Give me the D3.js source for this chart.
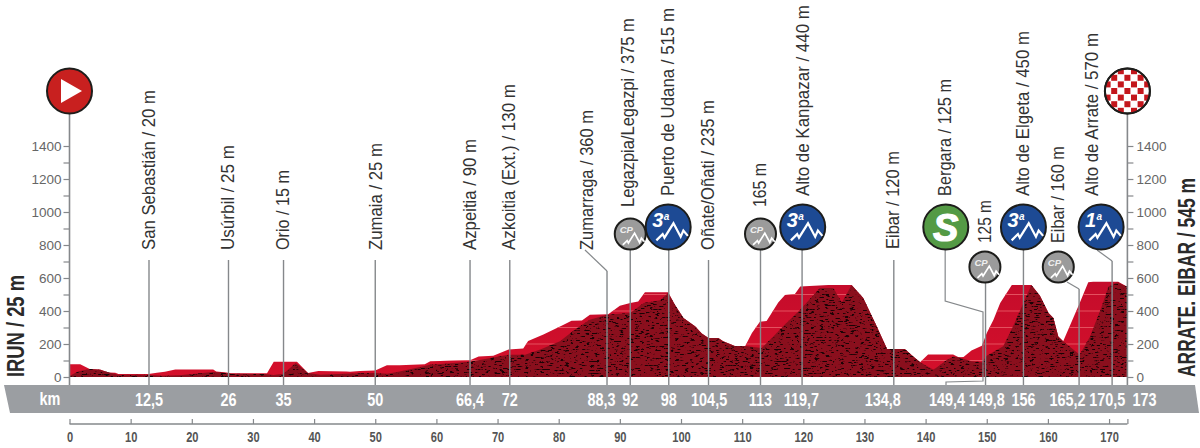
<!DOCTYPE html>
<html>
<head>
<meta charset="utf-8">
<script src="https://cdn.jsdelivr.net/npm/d3@7"></script>
<style>
  html, body { margin: 0; background: #fff; }
  svg { display: block; }
  .place { font-family: "Liberation Sans", sans-serif; font-size: 18.5px; fill: #333; }
  .scale text { font-family: "Liberation Sans", sans-serif; font-size: 13.5px; fill: #666; }
  .kmaxis text { font-family: "Liberation Sans", sans-serif; font-size: 15px; font-weight: bold; fill: #555; }
  .bandlabel { font-family: "Liberation Sans", sans-serif; font-size: 18.5px; font-weight: bold; fill: #fff; }
  .endname { font-family: "Liberation Sans", sans-serif; font-size: 24px; font-weight: bold; fill: #2a2a2a; }
</style>
</head>
<body>
<div id="chart"></div>
<script>
// road profile, [km, metres]
var profileKm = [0, 1.75, 3.3, 5, 6.4, 7.5, 8, 12.9, 14.3, 15.6, 17.3, 23.5, 24, 25.7, 26.3, 32.3, 33.4, 37.2, 39, 40.7, 45.3, 45.9, 47.5, 50, 51.9, 54, 58.1, 59, 65.5, 66.9, 69.3, 71.8, 74.2, 75, 77.5, 80.8, 82.1, 83.8, 85.1, 88.1, 90, 91.7, 93, 94.1, 97.9, 99, 100.4, 102.3, 103.4, 104.5, 106.1, 106.9, 108.8, 110.5, 111.6, 112.9, 114, 115.9, 117, 118.6, 119.5, 124.1, 127.9, 129.8, 132, 133.7, 136.6, 137.7, 139.1, 140.4, 144.5, 145.4, 146.2, 147.5, 149.2, 150, 151.1, 152.2, 154.1, 157.3, 158.7, 160.1, 160.9, 161.7, 162.5, 165.2, 166.6, 167.4, 171.5, 172.9, 173];
var profileM = [77, 77, 48, 46, 28, 26, 18, 18, 26, 32, 46, 46, 34, 28, 22, 22, 93, 93, 24, 36, 34, 32, 36, 40, 71, 71, 77, 95, 101, 125, 129, 166, 172, 218, 257, 317, 341, 343, 378, 380, 432, 448, 458, 513, 513, 438, 358, 307, 263, 236, 236, 216, 188, 188, 267, 335, 339, 452, 497, 501, 549, 557, 557, 479, 307, 170, 170, 133, 89, 137, 137, 119, 121, 160, 190, 267, 347, 448, 557, 557, 493, 388, 358, 246, 216, 448, 574, 578, 578, 549, 545];

// dark textured hillside in front of the road line
var hillKm = [0, 1.5, 3.3, 5, 6.4, 8, 12.9, 15, 18, 23.5, 25, 26.3, 32, 33.4, 35, 37, 39, 41, 45, 50, 52, 54, 59, 65.5, 71.8, 74.5, 77, 80.2, 83, 85.1, 87.9, 91.7, 93.9, 96.6, 97.9, 99, 100.4, 102.3, 103.4, 104.5, 106.1, 106.9, 108.8, 110.5, 113.2, 115.1, 116.7, 119.5, 122.7, 124.9, 126.3, 127.9, 129.8, 132, 133.7, 136.6, 137.7, 139.1, 141.3, 143.4, 144.5, 145.4, 147.5, 149.2, 150, 152.7, 154.3, 156, 157.3, 158.7, 160.1, 160.9, 161.7, 162.5, 165.2, 166.9, 168.8, 169.9, 171.3, 172.9, 173];
var hillM = [6, 35, 48, 44, 28, 14, 14, 8, 10, 30, 28, 20, 18, 12, 20, 85, 24, 14, 20, 24, 20, 34, 75, 93, 135, 135, 166, 216, 297, 347, 378, 388, 448, 465, 509, 438, 358, 307, 263, 236, 236, 216, 188, 188, 176, 246, 307, 408, 539, 539, 452, 557, 479, 307, 170, 170, 133, 89, 44, 101, 125, 119, 95, 89, 129, 186, 307, 448, 557, 493, 388, 358, 246, 216, 135, 246, 428, 549, 574, 549, 545];

// places along the route
var placeNames = ['San Sebastián / 20 m', 'Usúrbil / 25 m', 'Orio / 15 m', 'Zumaia / 25 m', 'Azpeitia / 90 m', 'Azkoitia (Ext.) / 130 m', 'Zumarraga / 360 m', 'Legazpia/Legazpi / 375 m', 'Puerto de Udana / 515 m', 'Oñate/Oñati / 235 m', '165 m', 'Alto de Kanpazar / 440 m', 'Eibar / 120 m', 'Bergara / 125 m', '125 m', 'Alto de Elgeta / 450 m', 'Eibar / 160 m', 'Alto de Arrate / 570 m'];
var placeKm = [13, 25.9, 34.9, 50.1, 65.5, 71.9, 84.6, 91.3, 97.9, 104.4, 112.9, 119.9, 134.7, 143.2, 149.7, 156, 161.6, 167.2];
var placeBase = [250, 250, 250, 250, 250, 250, 250, 207, 196, 250, 207, 196, 249, 196, 243, 196, 243, 196];
var placeLen = [160, 105, 80, 107, 111, 166, 140, 189, 188, 150, 44, 191, 98, 117, 43, 165, 97, 163];

// km band
var bandLabels = ['12,5', '26', '35', '50', '66,4', '72', '88,3', '92', '98', '104,5', '113', '119,7', '134,8', '149,4', '149,8', '156', '165,2', '170,5', '173'];
var bandKm = [13, 26, 35, 50, 65.5, 72, 87, 91.7, 98, 104.6, 113, 119.7, 133, 143.5, 150, 156, 163.2, 169.7, 175.8];
var lineKm = [13, 26, 35, 50, 65.5, 72, 87.9, 91.7, 98, 104.5, 113, 119.8, 134.8, 149.8, 156, 165.1, 170.5];
var lineTop = [260, 260, 260, 260, 260, 260, 271, 250, 250, 260, 250, 250, 260, 283, 250, 289, 261];

// climbs and sprints
var climbKm = [97.9, 119.9, 156, 168.7];
var climbCat = ['3', '3', '3', '1'];
var cpKm = [91.7, 113, 149.7, 161.7];
var cpRow = [234, 234, 267, 267];

var kmTicks = d3.range(0, 171, 10).concat([173]);
var kmTickLabels = d3.range(0, 171, 10);
var altTicks = d3.range(0, 1401, 100);

var width = 1200, height = 448;
var x = d3.scaleLinear().domain([0, 173]).range([69.5, 1127.4]);
var y = d3.scaleLinear().domain([0, 1400]).range([377, 146]);

var svg = d3.select('#chart').append('svg')
  .attr('width', width)
  .attr('height', height);

var defs = svg.append('defs');

var redFade = defs.append('linearGradient').attr('id', 'redFade')
  .attr('x1', 0).attr('x2', 0).attr('y1', 0).attr('y2', 1);
redFade.append('stop').attr('offset', '0%').attr('stop-color', '#c40c2b');
redFade.append('stop').attr('offset', '100%').attr('stop-color', '#d5102b');

// black speckle over the hillside
var rock = defs.append('filter').attr('id', 'rock')
  .attr('filterUnits', 'userSpaceOnUse')
  .attr('color-interpolation-filters', 'sRGB')
  .attr('x', 60).attr('y', 270).attr('width', 1080).attr('height', 115);
rock.append('feTurbulence')
  .attr('type', 'fractalNoise')
  .attr('baseFrequency', '0.2 0.75')
  .attr('numOctaves', 3)
  .attr('seed', 7)
  .attr('result', 'noise');
rock.append('feColorMatrix')
  .attr('in', 'noise')
  .attr('type', 'matrix')
  .attr('values', '0 0 0 0 0.1  0 0 0 0 0.01  0 0 0 0 0.02  0 0 0 -9 3.7')
  .attr('result', 'streaks');
rock.append('feComposite')
  .attr('in', 'streaks')
  .attr('in2', 'SourceGraphic')
  .attr('operator', 'in')
  .attr('result', 'cut');
var rockMerge = rock.append('feMerge');
rockMerge.append('feMergeNode').attr('in', 'SourceGraphic');
rockMerge.append('feMergeNode').attr('in', 'cut');

var profile = profileKm.map(function(k, i) { return [k, profileM[i]]; });
var hill = hillKm.map(function(k, i) { return [k, hillM[i]]; });

var area = d3.area()
  .x(function(d) { return x(d[0]); })
  .y0(y(0))
  .y1(function(d) { return y(d[1]); });

defs.append('clipPath').attr('id', 'roadClip')
  .append('path').attr('d', area(profile));

svg.append('path')
  .attr('d', area(profile))
  .attr('fill', 'url(#redFade)');

// faint height bands in the bright part
svg.append('g')
  .attr('clip-path', 'url(#roadClip)')
  .selectAll('line')
  .data(altTicks.slice(1, 6))
  .join('line')
  .attr('x1', x(0))
  .attr('x2', x(173))
  .attr('y1', function(d) { return y(d); })
  .attr('y2', function(d) { return y(d); })
  .attr('stroke', '#e4505f')
  .attr('stroke-width', 1);

svg.append('path')
  .attr('d', area(hill))
  .attr('fill', '#8a0f1d')
  .attr('filter', 'url(#rock)');

// km band
var band = d3.path();
band.moveTo(4, 385);
band.lineTo(1195, 385);
band.lineTo(1199, 413);
band.lineTo(10, 413);
band.closePath();
svg.append('path').attr('d', band.toString()).attr('fill', '#9b9ea2');

svg.append('text')
  .attr('class', 'bandlabel')
  .attr('transform', 'translate(50,405) scale(0.78,1)')
  .attr('text-anchor', 'middle')
  .text('km');

svg.selectAll('.bandlabel.km')
  .data(bandLabels)
  .join('text')
  .attr('class', 'bandlabel km')
  .attr('transform', function(d, i) { return 'translate(' + x(bandKm[i]) + ',405.5) scale(0.78,1)'; })
  .attr('text-anchor', 'middle')
  .text(function(d) { return d; });

// place lines
svg.selectAll('.stop')
  .data(lineKm)
  .join('line')
  .attr('class', 'stop')
  .attr('x1', function(d) { return x(d); })
  .attr('x2', function(d) { return x(d); })
  .attr('y1', function(d, i) { return lineTop[i]; })
  .attr('y2', 385)
  .attr('stroke', '#85888b')
  .attr('stroke-width', 1.4);

function connector(points) {
  svg.append('path')
    .attr('d', d3.line()(points))
    .attr('fill', 'none')
    .attr('stroke', '#85888b')
    .attr('stroke-width', 1.2);
}
connector([[585, 250], [x(87.9), 271]]);
connector([[x(143.2), 250], [x(143.2), 301], [983, 312], [983, 381], [946, 382], [946, 385]]);
connector([[1067, 282], [x(165.1), 289]]);
connector([[1097, 250], [x(170.5), 261]]);

// left and right height scales
var left = d3.axisLeft(y).tickValues(altTicks).tickSize(6).tickPadding(2)
  .tickFormat(function(d) { return d % 200 == 0 ? d : ''; });
var right = d3.axisRight(y).tickValues(altTicks).tickSize(6).tickPadding(3)
  .tickFormat(function(d) { return d % 200 == 0 ? d : ''; });

var gl = svg.append('g').attr('class', 'scale').attr('transform', 'translate(' + x(0) + ',0)').call(left);
var gr = svg.append('g').attr('class', 'scale').attr('transform', 'translate(' + x(173) + ',0)').call(right);
[gl, gr].forEach(function(g) {
  g.select('.domain').remove();
  g.selectAll('.tick line').attr('stroke', '#85888b').attr('stroke-width', 1.2);
});
svg.append('line').attr('x1', x(0)).attr('x2', x(0)).attr('y1', 110).attr('y2', 385)
  .attr('stroke', '#85888b').attr('stroke-width', 1.6);
svg.append('line').attr('x1', x(173)).attr('x2', x(173)).attr('y1', 110).attr('y2', 385)
  .attr('stroke', '#85888b').attr('stroke-width', 1.6);

// bottom km axis
var bottom = d3.axisBottom(x).tickValues(kmTicks).tickSize(-5).tickPadding(7)
  .tickFormat(function(d) { return kmTickLabels.indexOf(d) >= 0 ? d : ''; });
var gb = svg.append('g').attr('class', 'kmaxis').attr('transform', 'translate(0,424)').call(bottom);
gb.select('.domain').attr('stroke', '#85888b').attr('stroke-width', 1.4).attr('d', 'M' + x(0) + ',0H' + x(173));
gb.selectAll('.tick line').attr('stroke', '#85888b').attr('stroke-width', 1.2);
gb.selectAll('.tick text').attr('transform', 'scale(0.74,1)');

// squeeze a rotated name to the length it has on the sheet
function fitRotated(sel, lenOf, xOf, yOf) {
  sel.attr('transform', function(d, i) {
    var k = lenOf(d, i) / this.getComputedTextLength();
    return 'translate(' + xOf(d, i) + ',' + yOf(d, i) + ') rotate(-90) scale(' + k + ',1)';
  });
}

// rotated place names
var places = svg.selectAll('.place')
  .data(placeNames)
  .join('text')
  .attr('class', 'place')
  .attr('text-anchor', 'start')
  .text(function(d) { return d; });
fitRotated(places,
  function(d, i) { return placeLen[i]; },
  function(d, i) { return x(placeKm[i]) + 6; },
  function(d, i) { return placeBase[i]; });

fitRotated(svg.append('text').attr('class', 'endname').text('IRUN / 25 m'),
  function() { return 102; }, function() { return 24; }, function() { return 377; });
fitRotated(svg.append('text').attr('class', 'endname').text('ARRATE. EIBAR / 545 m'),
  function() { return 199; }, function() { return 1195; }, function() { return 377; });

function disc(cx, cy, r, fill) {
  return svg.append('circle')
    .attr('cx', cx).attr('cy', cy).attr('r', r)
    .attr('fill', fill)
    .attr('stroke', '#1d1d1b')
    .attr('stroke-width', 2);
}

// little white mountain line used on climb and CP badges
function peaks(cx, cy, k, w) {
  var pts = [[-12, 16], [-5, 9], [-3, 13], [7, -3], [15, 12], [18, 5], [23, 11]];
  svg.append('path')
    .attr('d', d3.line()(pts.map(function(p) { return [cx + p[0] * k, cy + p[1] * k]; })))
    .attr('fill', 'none')
    .attr('stroke', '#fff')
    .attr('stroke-width', w);
}

climbKm.forEach(function(k, i) {
  var cx = x(k), cy = 227;
  disc(cx, cy, 22.5, '#1d4a94');
  peaks(cx - 1, cy - 1, 0.9, 2.2);
  svg.append('text')
    .attr('x', cx - 16).attr('y', cy + 0)
    .attr('font-family', '"Liberation Sans", sans-serif')
    .attr('font-size', 20).attr('font-style', 'italic').attr('font-weight', 'bold')
    .attr('fill', '#fff')
    .text(climbCat[i]);
  svg.append('text')
    .attr('x', cx - 4.5).attr('y', cy - 7)
    .attr('font-family', '"Liberation Sans", sans-serif')
    .attr('font-size', 10).attr('font-style', 'italic').attr('font-weight', 'bold')
    .attr('fill', '#fff')
    .text('a');
});

cpKm.forEach(function(k, i) {
  var cx = x(k), cy = cpRow[i];
  disc(cx, cy, 15.5, '#9b9b9b');
  peaks(cx, cy + 1, 0.62, 1.7);
  svg.append('text')
    .attr('x', cx - 10.5).attr('y', cy - 1)
    .attr('font-family', '"Liberation Sans", sans-serif')
    .attr('font-size', 9.5).attr('font-style', 'italic').attr('font-weight', 'bold')
    .attr('fill', '#eee')
    .text('CP');
});

// sprint
disc(x(143.3), 227, 22.5, '#549a45');
svg.append('text')
  .attr('x', x(143.3)).attr('y', 241)
  .attr('text-anchor', 'middle')
  .attr('font-family', '"Liberation Sans", sans-serif')
  .attr('font-size', 38).attr('font-style', 'italic').attr('font-weight', 'bold')
  .attr('fill', '#fff')
  .attr('stroke', '#fff').attr('stroke-width', 1.2)
  .text('S');

// start
disc(x(0), 91, 22.5, '#c8201f');
svg.append('path')
  .attr('d', d3.line()([[x(0) - 8.5, 79], [x(0) + 12.5, 91], [x(0) - 8.5, 103]]) + 'Z')
  .attr('fill', '#fff');

// finish, chequered
var fx = x(173), fy = 91, cell = 6.6;
defs.append('clipPath').attr('id', 'flagClip')
  .append('circle').attr('cx', fx).attr('cy', fy).attr('r', 22.5);
disc(fx, fy, 22.5, '#fff');
var flag = svg.append('g').attr('clip-path', 'url(#flagClip)');
d3.range(-4, 5).forEach(function(r) {
  d3.range(-4, 5).forEach(function(c) {
    if ((r + c + 8) % 2 == 0) {
      flag.append('rect')
        .attr('x', fx + c * cell - 3)
        .attr('y', fy + r * cell - 3)
        .attr('width', 6).attr('height', 6)
        .attr('fill', '#c3161c');
    }
  });
});
svg.append('circle').attr('cx', fx).attr('cy', fy).attr('r', 22.5)
  .attr('fill', 'none').attr('stroke', '#1d1d1b').attr('stroke-width', 2);
</script>
</body>
</html>
